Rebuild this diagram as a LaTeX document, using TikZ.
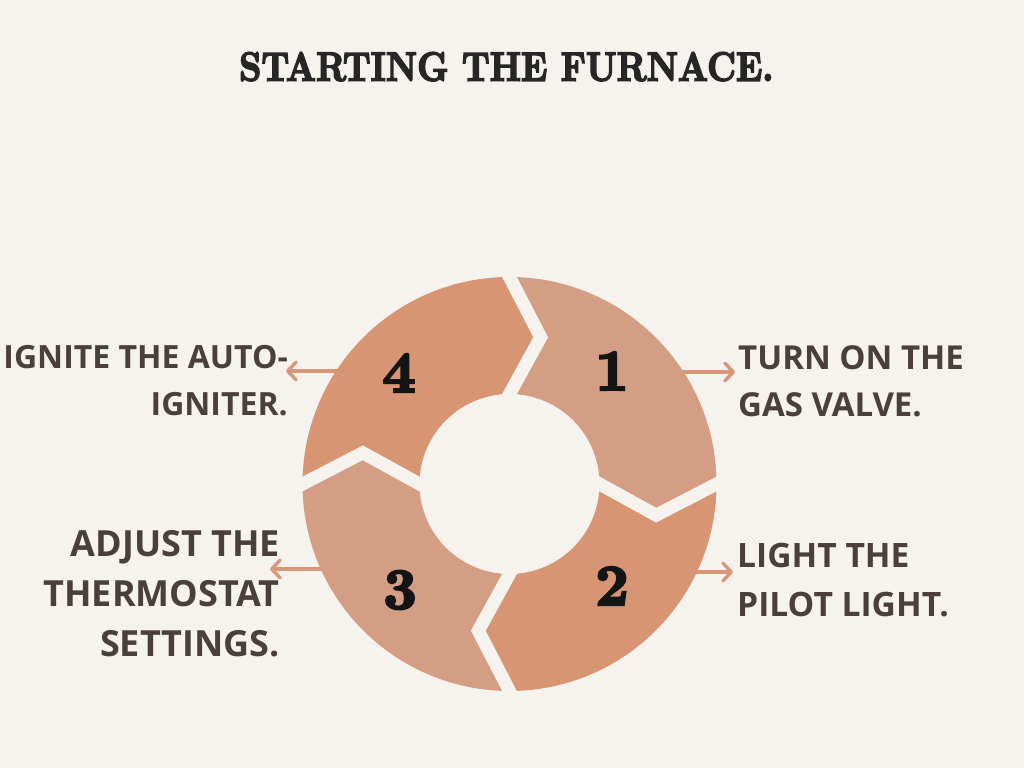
\documentclass[tikz,border=0pt]{standalone}
\usepackage{fontspec}
\newfontfamily\osans{Open Sans}
\newfontfamily\heavyserif{lmroman10-bold}[Extension=.otf,FakeBold=4]
\usetikzlibrary{calc,arrows.meta}
\definecolor{bg}{HTML}{F6F3EE}
\definecolor{segL}{HTML}{D49E84}
\definecolor{segD}{HTML}{D79574}
\definecolor{arr}{HTML}{D9977A}
\definecolor{txt}{HTML}{4A3F3A}
\definecolor{ttl}{HTML}{262626}
\definecolor{num}{HTML}{141414}
\tikzset{
  x=1pt,y=1pt,
  label1/.style={inner sep=0pt,text=txt,font=\osans\bfseries\fontsize{33}{47.5}\selectfont},
  numtxt/.style={inner sep=0pt,text=num,font=\heavyserif\fontsize{58}{58}\selectfont},
  conn/.style={draw=arr,line width=3.4pt,line cap=round,line join=round,-{Straight Barb[length=8.5pt,width=18pt,line width=3.4pt,round]}},
  gap/.style={draw=bg,line width=13pt,line join=miter}
}
\begin{document}
\begin{tikzpicture}
\fill[bg] (0,0) rectangle (1024,768);
\useasboundingbox (0,0) rectangle (1024,768);
\coordinate (c) at (509.5,284);
% title
\node[anchor=north west,inner sep=0pt,text=ttl] (title) at (239,716) {\resizebox{534pt}{28.5pt}{\heavyserif STARTING THE FURNACE.}};
% labels
\node[label1,anchor=north west,align=left] (t1) at (738,423) {TURN ON THE\\GAS VALVE.};
\node[label1,anchor=north west,align=left,font=\osans\bfseries\fontsize{33.6}{48.5}\selectfont] (t2) at (737,225) {LIGHT THE\\PILOT LIGHT.};
\node[label1,anchor=north east,align=right,font=\osans\bfseries\fontsize{36}{50}\selectfont] (t3) at (280,238) {ADJUST THE\\THERMOSTAT\\SETTINGS.};
\node[label1,anchor=north east,align=right,font=\osans\bfseries\fontsize{32}{47.5}\selectfont] (t4) at (288,423) {IGNITE THE AUTO-\\IGNITER.};
% arrow starts (hidden behind the ring)
\coordinate (a1) at (670,396);
\coordinate (a2) at (690,196);
\coordinate (a3) at (330,199);
\coordinate (a4) at (345,397);
\draw[conn,shorten >=3pt] (a1) -- (a1 -| t1.west);
\draw[conn,shorten >=4pt] (a2) -- (a2 -| t2.west);
\draw[conn,shorten >=-10pt] (a3) -- (a3 -| t3.east);
\draw[conn,shorten >=-2pt] (a4) -- (a4 -| t4.east);
% segments
\foreach \a/\col in {90/segL,0/segD,-90/segL,180/segD}{
  \pgfmathsetmacro{\b}{\a-90}
  \fill[\col] ($(c)+(\a:207)$) arc[start angle=\a,end angle=\b,radius=207]
     -- ($(c)+(\b-12:150)$) -- ($(c)+(\b:90)$)
     arc[start angle=\b,end angle=\a,radius=90]
     -- ($(c)+(\a-12:150)$) -- cycle;
}
% gaps
\foreach \a in {90,0,-90,180}{
  \coordinate (go) at ($(c)+(\a:207)$);
  \coordinate (gk) at ($(c)+(\a-12:150)$);
  \coordinate (gi) at ($(c)+(\a:90)$);
  \draw[gap] ($(go)!-0.15!(gk)$) -- (gk) -- ($(gi)!-0.15!(gk)$);
}
% numbers
\node[numtxt] (n1) at (612,397) {1};
\node[numtxt] (n2) at (612,182) {2};
\node[numtxt] (n3) at (400,178) {3};
\node[numtxt] (n4) at (399,395) {4};
\end{tikzpicture}
\end{document}
